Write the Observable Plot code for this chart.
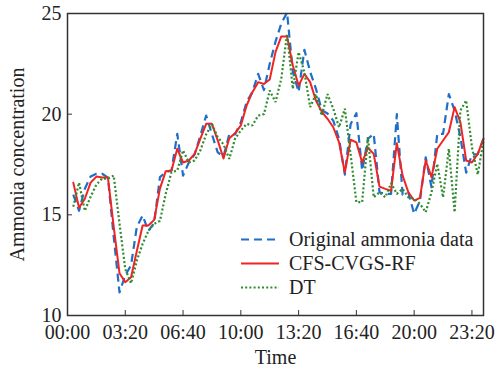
<!DOCTYPE html>
<html><head><meta charset="utf-8">
<script src="https://cdn.jsdelivr.net/npm/d3@7"></script>
<script src="https://cdn.jsdelivr.net/npm/@observablehq/plot@0.6"></script>
<style>
body{margin:0;background:#fff}
#wrap{position:relative;width:497px;height:376px}
#legend{position:absolute;left:0;top:0;pointer-events:none}
</style>
</head><body><div id="wrap"></div>
<script>
const stepMinutes = 20;
const original = [16.0,15.2,16.3,16.9,17.04,17.04,16.85,13.9,11.15,12.0,12.5,14.4,14.97,14.2,14.6,16.87,17.12,17.2,19.02,16.95,17.6,18.0,18.94,19.93,19.0,18.1,17.9,19.0,19.0,19.6,20.6,21.1,22.0,21.2,22.5,23.6,24.5,25.05,22.1,21.1,23.2,22.1,21.26,20.2,20.03,19.68,18.78,17.0,19.5,20.05,17.2,18.78,19.02,16.12,16.04,16.04,20.0,16.0,16.1,15.05,15.7,17.86,16.37,19.02,19.02,21.0,20.18,18.86,17.1,18.0,18.0,18.78];
const cfs = [16.6,15.35,15.8,16.6,16.9,16.85,16.85,14.4,12.1,11.65,11.9,13.2,14.47,14.47,14.75,16.3,17.17,17.2,18.28,17.6,17.7,18.03,18.78,19.52,19.52,18.7,17.8,18.8,19.05,19.44,20.43,21.09,21.59,21.5,21.72,23.08,23.86,23.86,22.42,21.42,22.0,21.59,20.68,20.13,19.77,19.35,18.6,17.1,18.73,18.6,17.6,18.33,18.03,16.4,16.29,16.2,18.56,16.95,16.12,15.71,15.84,17.7,16.87,18.28,18.69,19.1,20.35,19.6,17.7,17.6,18.03,18.78];
const dt = [15.4,16.6,15.2,15.9,16.5,16.8,16.8,16.95,14.57,12.3,11.6,12.73,13.56,14.2,14.55,14.7,16.04,17.12,17.2,18.2,17.6,17.7,18.2,19.0,19.5,18.86,18.5,17.78,18.78,19.19,19.52,19.44,19.93,20.0,21.17,20.6,21.76,23.99,21.26,23.08,22.08,20.35,21.0,19.93,21.0,20.27,19.35,20.27,18.0,15.63,15.63,18.86,15.87,16.12,15.87,16.57,16.04,16.29,15.87,15.8,15.55,15.13,16.12,17.53,15.87,18.28,15.13,20.18,20.68,18.36,17.0,18.69];
const xTicks = [0,200,400,600,800,1000,1200,1400];
const yTicks = [10,15,20,25];
const seriesNames = ["Original ammonia data","CFS-CVGS-RF","DT"];
const seriesColors = ["#1f6ec8","#f02424","#2e8b2e"];
const seriesDash = ["8,5",null,"2,2.2"];
const xLabel = "Time";
const yLabel = "Ammonia concentration";

const rows = vals => vals.map((v,i)=>({t:(i+1)*stepMinutes, v}));
const fmt = m => String(Math.floor(m/60)).padStart(2,"0")+":"+String(m%60).padStart(2,"0");
const font = "'Liberation Serif','Times New Roman',serif";

const plot = Plot.plot({
  width:497, height:376, marginLeft:67, marginRight:14, marginTop:13, marginBottom:61,
  style:{fontFamily:font, fontSize:"20px", color:"#222", background:"#fff", overflow:"visible"},
  x:{domain:[0,1440]}, y:{domain:[10,25]},
  marks:[
    Plot.axisX(xTicks,{tickSize:-5, tickPadding:14, tickFormat:fmt, label:null, fontSize:20, stroke:"#333"}),
    Plot.axisY(yTicks,{tickSize:-5, tickPadding:11, label:null, fontSize:20, stroke:"#333"}),
    Plot.line(rows(original),{x:"t", y:"v", stroke:seriesColors[0], strokeWidth:2.2, strokeDasharray:seriesDash[0], strokeLinecap:"butt"}),
    Plot.line(rows(cfs),{x:"t", y:"v", stroke:seriesColors[1], strokeWidth:2}),
    Plot.line(rows(dt),{x:"t", y:"v", stroke:seriesColors[2], strokeWidth:2.2, strokeDasharray:seriesDash[2], strokeLinecap:"butt", strokeLinejoin:"miter"}),
    Plot.frame({stroke:"#333", strokeWidth:1.5}),
    Plot.text([xLabel],{frameAnchor:"bottom", dy:48, fontSize:20, fill:"#222"}),
    Plot.text([yLabel],{frameAnchor:"left", dx:-50, rotate:-90, textAnchor:"middle", fontSize:20, fill:"#222"})
  ]
});
const wrap = document.getElementById("wrap");
wrap.appendChild(plot);

// legend overlay
const ns = "http://www.w3.org/2000/svg";
const lg = document.createElementNS(ns,"svg");
lg.setAttribute("id","legend"); lg.setAttribute("width",497); lg.setAttribute("height",376);
seriesNames.forEach((name,k)=>{
  const yy = 239.5 + k*24;
  const ln = document.createElementNS(ns,"line");
  ln.setAttribute("x1",241); ln.setAttribute("x2",279);
  ln.setAttribute("y1",yy); ln.setAttribute("y2",yy);
  ln.setAttribute("stroke",seriesColors[k]); ln.setAttribute("stroke-width",2.2);
  if (seriesDash[k]) ln.setAttribute("stroke-dasharray",seriesDash[k]);
  lg.appendChild(ln);
  const tx = document.createElementNS(ns,"text");
  tx.setAttribute("x",289); tx.setAttribute("y",yy+6.5);
  tx.setAttribute("font-family",font); tx.setAttribute("font-size",20); tx.setAttribute("fill","#222");
  tx.textContent = name;
  lg.appendChild(tx);
});
wrap.appendChild(lg);
</script>
</body></html>
